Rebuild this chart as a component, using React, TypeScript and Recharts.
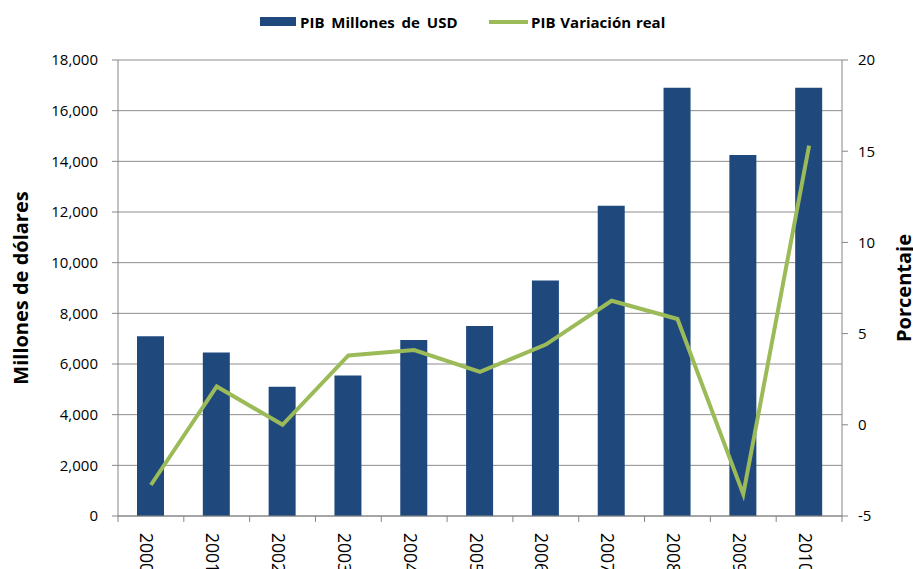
import React from 'react'
import {
  ComposedChart,
  Bar,
  Line,
  XAxis,
  YAxis,
  CartesianGrid,
  Legend,
} from 'recharts'

const years = ['2000', '2001', '2002', '2003', '2004', '2005', '2006', '2007', '2008', '2009', '2010']
const pibUsd = [7100, 6450, 5100, 5550, 6950, 7500, 9300, 12250, 16900, 14250, 16900]
const pibVariacion = [-3.3, 2.1, 0.0, 3.8, 4.1, 2.9, 4.4, 6.8, 5.8, -3.8, 15.3]
const usdTicks = [0, 2000, 4000, 6000, 8000, 10000, 12000, 14000, 16000, 18000]
const pctTicks = [-5, 0, 5, 10, 15, 20]

const BLUE = '#1F497D'
const GREEN = '#9BBB59'
const AXIS = '#868686'
const FONT = '"Open Sans", sans-serif'

const PLOT_LEFT = 118
const PLOT_RIGHT = 842
const BAND = (PLOT_RIGHT - PLOT_LEFT) / years.length

const data = years.map((year, i) => ({
  year,
  usd: pibUsd[i],
  pct: pibVariacion[i],
}))

// Excel puts the category tick marks between the bars, so draw them here
function YearTick(props: any) {
  const { x, y, payload, index } = props
  const last = index === years.length - 1
  const tx = x - 3.5
  const ty = y + 17
  return (
    <g>
      <line x1={x - BAND / 2} x2={x - BAND / 2} y1={y} y2={y + 6} stroke={AXIS} />
      {last && <line x1={x + BAND / 2} x2={x + BAND / 2} y1={y} y2={y + 6} stroke={AXIS} />}
      <text
        x={tx}
        y={ty}
        transform={`rotate(90, ${tx}, ${ty})`}
        dominantBaseline="central"
        textAnchor="start"
        fontSize={17.5}
        fontFamily={FONT}
        fill="#000"
      >
        {payload.value}
      </text>
    </g>
  )
}

function ChartLegend() {
  const text = { position: 'absolute' as const, top: 0, fontSize: 15, fontWeight: 700, whiteSpace: 'nowrap' as const, lineHeight: '20px' }
  return (
    <div style={{ position: 'relative', height: 28, fontFamily: FONT, color: '#000' }}>
      <span style={{ position: 'absolute', left: 260, top: 5, width: 36, height: 9, background: BLUE }} />
      <span style={{ ...text, left: 300, wordSpacing: 3 }}>PIB Millones de USD</span>
      <span style={{ position: 'absolute', left: 489, top: 8, width: 39, height: 4, background: GREEN }} />
      <span style={{ ...text, left: 531, wordSpacing: 1 }}>PIB Variación real</span>
    </div>
  )
}

function LeftTitle(props: any) {
  const { viewBox } = props
  const x = 28
  const y = viewBox.y + viewBox.height / 2
  return (
    <text x={x} y={y} transform={`rotate(-90, ${x}, ${y})`} textAnchor="middle" fontSize={20} fontWeight={700} fontFamily={FONT} fill="#000">
      Millones de dólares
    </text>
  )
}

function RightTitle(props: any) {
  const { viewBox } = props
  const x = 911
  const y = viewBox.y + viewBox.height / 2
  return (
    <text x={x} y={y} transform={`rotate(-90, ${x}, ${y})`} textAnchor="middle" fontSize={20} fontWeight={700} fontFamily={FONT} fill="#000">
      Porcentaje
    </text>
  )
}

export default function App() {
  return (
    <div style={{ position: 'absolute', left: 0, top: 0, width: 913, height: 569, overflow: 'hidden', background: '#fff', fontFamily: FONT }}>
      <ComposedChart width={913} height={569} data={data} margin={{ top: 32, right: 0, bottom: 0, left: 0 }}>
        <CartesianGrid yAxisId="left" vertical={false} stroke="#8C8C8C" />
        <XAxis
          dataKey="year"
          height={53}
          interval={0}
          tickLine={false}
          tickSize={0}
          tickMargin={0}
          axisLine={{ stroke: AXIS }}
          tick={<YearTick />}
        />
        <YAxis
          yAxisId="left"
          width={PLOT_LEFT}
          domain={[0, 18000]}
          ticks={usdTicks}
          tickSize={6}
          tickMargin={14}
          axisLine={{ stroke: AXIS }}
          tickLine={{ stroke: AXIS }}
          tick={{ fill: '#000', fontSize: 15, fontFamily: FONT }}
          tickFormatter={(v: number) => v.toLocaleString('en-US')}
          label={<LeftTitle />}
        />
        <YAxis
          yAxisId="right"
          orientation="right"
          width={913 - PLOT_RIGHT}
          domain={[-5, 20]}
          ticks={pctTicks}
          tickSize={6}
          tickMargin={10}
          axisLine={{ stroke: AXIS }}
          tickLine={{ stroke: AXIS }}
          tick={{ fill: '#000', fontSize: 15, fontFamily: FONT, textAnchor: 'start' }}
          label={<RightTitle />}
        />
        <Legend verticalAlign="top" content={<ChartLegend />} wrapperStyle={{ top: 12, left: 0, width: 913, height: 28 }} />
        <Bar yAxisId="left" dataKey="usd" name="PIB Millones de USD" fill={BLUE} barSize={27} isAnimationActive={false} />
        <Line
          yAxisId="right"
          dataKey="pct"
          name="PIB Variación real"
          type="linear"
          stroke={GREEN}
          strokeWidth={4}
          dot={false}
          activeDot={false}
          isAnimationActive={false}
        />
      </ComposedChart>
    </div>
  )
}
